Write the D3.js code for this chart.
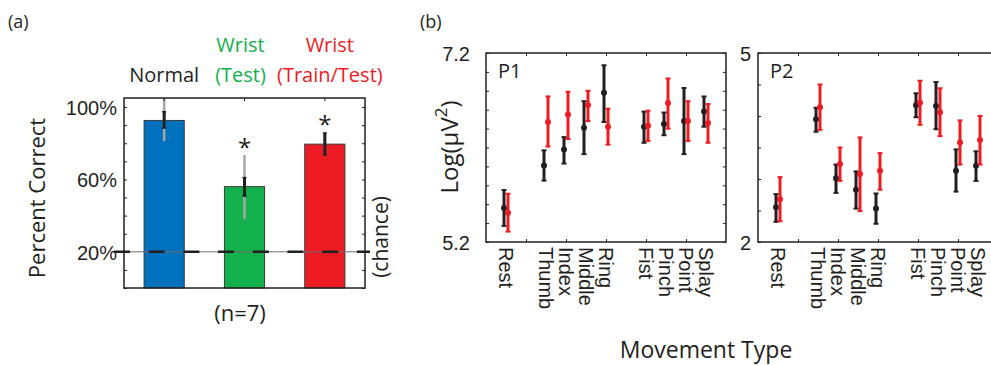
<!DOCTYPE html>
<html>
<head>
<meta charset="utf-8">
<script src="https://cdn.jsdelivr.net/npm/d3@7"></script>
<style>
  body { margin: 0; background: #fff; }
  svg { font-family: "Open Sans", sans-serif; fill: #231f20; }
  .axis path, .axis line { stroke: #231f20; }
</style>
</head>
<body>
<svg id="chart" width="991" height="365"></svg>
<script>
// ---- panel (a) data ----
const barCats = ['Normal', 'Wrist (Test)', 'Wrist (Train/Test)'];
const barMeans = [92.6, 56, 79.5];
const barSeLo = [88.4, 50.8, 73.5];
const barSeHi = [97.4, 61, 85.6];
const barSdLo = [81.2, 38, 73.2];
const barSdHi = [108, 73.5, 86.2];
const barSig = [false, true, true];
const barColors = ['#0071bc', '#13b14b', '#ed1c24'];
const pctTicks = [20, 60, 100];
const chanceLevel = 20;

// ---- panel (b) data ----
const moves = ['Rest', 'Thumb', 'Index', 'Middle', 'Ring', 'Fist', 'Pinch', 'Point', 'Splay'];
const movePos = [1, 3, 4, 5, 6, 8, 9, 10, 11];

const p1NormMean = [5.56, 6.01, 6.18, 6.41, 6.78, 6.42, 6.45, 6.48, 6.58];
const p1NormLo = [5.37, 5.85, 6.03, 6.13, 6.47, 6.25, 6.33, 6.13, 6.42];
const p1NormHi = [5.75, 6.17, 6.31, 6.69, 7.07, 6.58, 6.57, 6.83, 6.74];
const p1WristMean = [5.51, 6.47, 6.55, 6.65, 6.42, 6.43, 6.67, 6.48, 6.46];
const p1WristLo = [5.31, 6.21, 6.29, 6.48, 6.23, 6.27, 6.40, 6.27, 6.25];
const p1WristHi = [5.71, 6.74, 6.79, 6.80, 6.61, 6.59, 6.93, 6.69, 6.66];

const p2NormMean = [2.55, 3.95, 3.01, 2.83, 2.53, 4.17, 4.16, 3.13, 3.21];
const p2NormLo = [2.32, 3.75, 2.78, 2.53, 2.29, 3.98, 3.79, 2.80, 2.97];
const p2NormHi = [2.76, 4.13, 3.23, 3.12, 2.77, 4.36, 4.54, 3.47, 3.44];
const p2WristMean = [2.68, 4.14, 3.24, 3.08, 3.13, 4.21, 4.06, 3.58, 3.62];
const p2WristLo = [2.33, 3.78, 2.97, 2.49, 2.83, 3.86, 3.68, 3.23, 3.23];
const p2WristHi = [3.03, 4.50, 3.50, 3.66, 3.41, 4.56, 4.44, 3.93, 4.00];

const svg = d3.select('#chart');
const ink = '#231f20';
const red = '#ed1c24';

// =================== panel (a) ===================
const boxA = { left: 124, right: 365, top: 98, bottom: 288 };

const xa = d3.scaleBand()
  .domain(barCats)
  .range([boxA.left, boxA.right])
  .paddingInner(0.5)
  .paddingOuter(0.25);

const ya = d3.scaleLinear()
  .domain([0, 105])
  .range([boxA.bottom, boxA.top]);

svg.append('clipPath').attr('id', 'clipA')
  .append('rect')
  .attr('x', boxA.left).attr('y', boxA.top)
  .attr('width', boxA.right - boxA.left).attr('height', boxA.bottom - boxA.top);

const ga = svg.append('g');

ga.selectAll('.bar')
  .data(barCats)
  .enter().append('rect')
  .attr('class', 'bar')
  .attr('x', d => xa(d))
  .attr('y', (d, i) => ya(barMeans[i]))
  .attr('width', xa.bandwidth())
  .attr('height', (d, i) => ya(0) - ya(barMeans[i]))
  .attr('fill', (d, i) => barColors[i])
  .attr('stroke', '#3a3a3a')
  .attr('stroke-width', 1);

// chance line: thin grey solid under thick black dashes
ga.append('line')
  .attr('x1', boxA.left).attr('x2', boxA.right)
  .attr('y1', ya(chanceLevel)).attr('y2', ya(chanceLevel))
  .attr('stroke', '#6d6d6d').attr('stroke-width', 1);
ga.append('line')
  .attr('x1', boxA.left - 10).attr('x2', boxA.right + 5)
  .attr('y1', ya(chanceLevel)).attr('y2', ya(chanceLevel))
  .attr('stroke', ink).attr('stroke-width', 2.5)
  .attr('stroke-dasharray', '16,18.7');

// error bars
const errA = ga.append('g').attr('clip-path', 'url(#clipA)');
const cx = d => xa(d) + xa.bandwidth() / 2;
errA.selectAll('.sd')
  .data(barCats)
  .enter().append('line')
  .attr('x1', cx).attr('x2', cx)
  .attr('y1', (d, i) => ya(barSdLo[i]))
  .attr('y2', (d, i) => ya(barSdHi[i]))
  .attr('stroke', '#a6a6a6').attr('stroke-width', 2.5);
errA.selectAll('.se')
  .data(barCats)
  .enter().append('line')
  .attr('x1', cx).attr('x2', cx)
  .attr('y1', (d, i) => ya(barSeLo[i]))
  .attr('y2', (d, i) => ya(barSeHi[i]))
  .attr('stroke', ink).attr('stroke-width', 3);
barCats.forEach((d, i) => {
  [barSeLo[i], barSeHi[i]].forEach(v => {
    errA.append('line')
      .attr('x1', cx(d) - 2).attr('x2', cx(d) + 2)
      .attr('y1', ya(v)).attr('y2', ya(v))
      .attr('stroke', ink).attr('stroke-width', 1.5);
  });
});

// asterisks
ga.selectAll('.star')
  .data(barCats.filter((d, i) => barSig[i]))
  .enter().append('text')
  .attr('x', cx)
  .attr('y', d => ya(barSdHi[barCats.indexOf(d)]) + 1)
  .attr('text-anchor', 'middle')
  .style('font-size', '24px')
  .text('*');

// axes of (a)
const yAxisA = d3.axisLeft(ya)
  .tickValues(d3.range(0, 101, 10))
  .tickSizeInner(-3).tickSizeOuter(0).tickPadding(7)
  .tickFormat(d => pctTicks.includes(d) ? d + '%' : '');
ga.append('g').attr('class', 'axis')
  .attr('transform', `translate(${boxA.left},0)`)
  .call(yAxisA)
  .call(g => g.select('.domain').remove())
  .selectAll('text').style('font-size', '20px').attr('fill', ink).attr('dy', '0.36em');
ga.append('g').attr('class', 'axis')
  .attr('transform', `translate(${boxA.right},0)`)
  .call(d3.axisRight(ya).tickValues(d3.range(0, 101, 10)).tickSizeInner(-3).tickSizeOuter(0).tickFormat(''))
  .call(g => g.select('.domain').remove());
ga.append('g').attr('class', 'axis')
  .attr('transform', `translate(0,${boxA.top})`)
  .call(d3.axisTop(xa).tickSizeInner(-3).tickSizeOuter(0).tickFormat(''))
  .call(g => g.select('.domain').remove());

ga.append('rect')
  .attr('x', boxA.left).attr('y', boxA.top)
  .attr('width', boxA.right - boxA.left).attr('height', boxA.bottom - boxA.top)
  .attr('fill', 'none').attr('stroke', ink).attr('stroke-width', 1.5);

// category headers
const headLines = [['', 'Normal'], ['Wrist', '(Test)'], ['Wrist', '(Train/Test)']];
const headShift = [0, -4, 5];
headLines.forEach((lines, i) => {
  const hx = cx(barCats[i]) + headShift[i];
  lines.forEach((t, k) => {
    if (!t) return;
    ga.append('text')
      .attr('x', hx).attr('y', 52 + 30 * k)
      .attr('text-anchor', 'middle')
      .style('font-size', '20px')
      .attr('fill', i === 0 ? ink : barColors[i])
      .text(t);
  });
});

ga.append('text').attr('x', 8).attr('y', 28).style('font-size', '18px').text('(a)');
ga.append('text')
  .attr('transform', `translate(45,198) rotate(-90)`)
  .attr('text-anchor', 'middle').style('font-size', '22px')
  .text('Percent Correct');
ga.append('text')
  .attr('transform', `translate(388,237) rotate(-90)`)
  .attr('text-anchor', 'middle').style('font-size', '21px')
  .text('(chance)');
ga.append('text')
  .attr('x', 240).attr('y', 321)
  .attr('text-anchor', 'middle').style('font-size', '22px')
  .text('(n=7)');

// =================== panel (b) ===================
function drawPanel(left, domain, step, yLabels, labelPad, tag, nMean, nLo, nHi, wMean, wLo, wHi) {
  const top = 53, bottom = 242, width = 240;
  const x = d3.scaleLinear().domain([0, 12]).range([left, left + width]);
  const y = d3.scaleLinear().domain(domain).range([bottom, top]);
  const g = svg.append('g');
  const yTicks = d3.range(domain[0], domain[1] + step / 2, step);
  const lbl = v => yLabels.some(l => Math.abs(l - v) < 1e-6);

  g.append('g').attr('class', 'axis')
    .attr('transform', `translate(${left},0)`)
    .call(d3.axisLeft(y).tickValues(yTicks).tickSizeInner(-3).tickSizeOuter(0).tickPadding(labelPad)
      .tickFormat(v => lbl(v) ? d3.format('~g')(+v.toFixed(1)) : ''))
    .call(a => a.select('.domain').remove())
    .selectAll('text').style('font-size', '20px').attr('fill', ink).attr('dy', '0.36em');
  g.append('g').attr('class', 'axis')
    .attr('transform', `translate(${left + width},0)`)
    .call(d3.axisRight(y).tickValues(yTicks).tickSizeInner(-3).tickSizeOuter(0).tickFormat(''))
    .call(a => a.select('.domain').remove());
  [top, bottom].forEach((yy, k) => {
    g.append('g').attr('class', 'axis')
      .attr('transform', `translate(0,${yy})`)
      .call((k ? d3.axisBottom(x) : d3.axisTop(x)).tickValues([2, 4, 6, 8, 10]).tickSizeInner(-3).tickSizeOuter(0).tickFormat(''))
      .call(a => a.select('.domain').remove());
  });

  // movement labels, rotated
  g.append('g')
    .attr('transform', `translate(0,${bottom})`)
    .call(d3.axisBottom(x).tickValues(movePos).tickSize(0).tickFormat((v, i) => moves[i]))
    .call(a => a.select('.domain').remove())
    .selectAll('text')
    .attr('x', 5).attr('y', 0).attr('dy', '0.36em')
    .attr('transform', 'rotate(90)')
    .attr('text-anchor', 'start')
    .attr('fill', ink)
    .style('font-size', '20px');

  const series = [
    { mean: nMean, lo: nLo, hi: nHi, dx: -2, color: ink },
    { mean: wMean, lo: wLo, hi: wHi, dx: 2, color: red }
  ];
  series.forEach(s => {
    const sg = g.append('g');
    movePos.forEach((p, i) => {
      const px = x(p) + s.dx;
      sg.append('line')
        .attr('x1', px).attr('x2', px)
        .attr('y1', y(s.lo[i])).attr('y2', y(s.hi[i]))
        .attr('stroke', s.color).attr('stroke-width', 3);
      [s.lo[i], s.hi[i]].forEach(v => {
        sg.append('line')
          .attr('x1', px - 2.5).attr('x2', px + 2.5)
          .attr('y1', y(v)).attr('y2', y(v))
          .attr('stroke', s.color).attr('stroke-width', 2);
      });
      sg.append('circle')
        .attr('cx', px).attr('cy', y(s.mean[i])).attr('r', 3)
        .attr('fill', s.color);
    });
  });

  g.append('rect')
    .attr('x', left).attr('y', top)
    .attr('width', width).attr('height', bottom - top)
    .attr('fill', 'none').attr('stroke', ink).attr('stroke-width', 1.5);

  g.append('text').attr('x', left + 12).attr('y', 78).style('font-size', '20px').text(tag);
}

drawPanel(486, [5.2, 7.2], 0.2, [5.2, 7.2], 16, 'P1',
  p1NormMean, p1NormLo, p1NormHi, p1WristMean, p1WristLo, p1WristHi);
drawPanel(758, [2, 5], 0.5, [2, 5], 7, 'P2',
  p2NormMean, p2NormLo, p2NormHi, p2WristMean, p2WristLo, p2WristHi);

svg.append('text').attr('x', 420).attr('y', 28).style('font-size', '18px').text('(b)');

const ylab = svg.append('text')
  .attr('transform', 'translate(458,147) rotate(-90)')
  .attr('text-anchor', 'middle').style('font-size', '24px');
ylab.append('tspan').text('Log(\u03bcV');
ylab.append('tspan').attr('baseline-shift', 'super').style('font-size', '17px').text('2');
ylab.append('tspan').text(')');

svg.append('text')
  .attr('x', 706).attr('y', 358)
  .attr('text-anchor', 'middle').style('font-size', '23px')
  .text('Movement Type');
</script>
</body>
</html>
